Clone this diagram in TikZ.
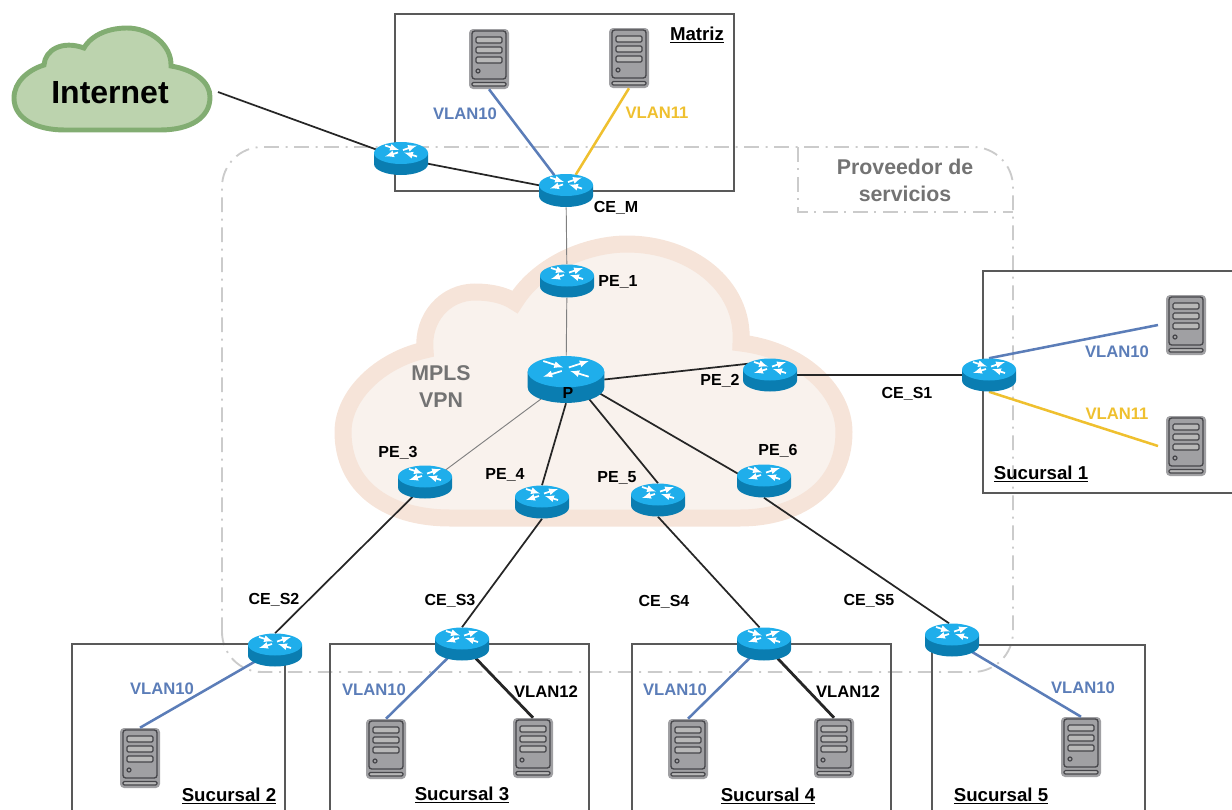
\documentclass[tikz,border=0pt]{standalone}
\usepackage{fontspec}
\setmainfont{Liberation Sans}
\usetikzlibrary{shapes.geometric}
\definecolor{rtop}{HTML}{1FAEEB}
\definecolor{rside}{HTML}{0A7DB1}
\definecolor{vblue}{HTML}{5B7DB8}
\definecolor{vyellow}{HTML}{EFC02F}
\definecolor{srvgray}{HTML}{A0A0A3}
\definecolor{srvdark}{HTML}{46464A}
\definecolor{dashgray}{HTML}{CBCBCB}
\definecolor{cpeach}{HTML}{F6E4D9}
\definecolor{ccream}{HTML}{F9F2ED}
\definecolor{cgreen}{HTML}{82AD72}
\definecolor{cleaf}{HTML}{BCD3AE}
\tikzset{
  rtr/.style={shape=ellipse,inner sep=0pt,minimum width=40.5pt,minimum height=24.75pt},
  rtrbig/.style={shape=ellipse,inner sep=0pt,minimum width=57pt,minimum height=35.25pt},
  srv/.style={rectangle,rounded corners=3pt,fill=srvgray,inner sep=0pt,minimum width=30pt,minimum height=45pt},
  lbl/.style={font=\bfseries\fontsize{12}{14}\selectfont,inner sep=0pt},
  vlan/.style={font=\bfseries\fontsize{12.5}{15}\selectfont,inner sep=0pt},
  site/.style={font=\bfseries\fontsize{14}{16}\selectfont,inner sep=0pt},
  graytxt/.style={font=\bfseries\fontsize{16}{19}\selectfont,inner sep=0pt,text=black!55},
  boxline/.style={draw=black!65,line width=1.1pt},
  provline/.style={draw=dashgray,line width=1.4pt,dash pattern=on 11pt off 5pt on 1.5pt off 5pt},
  link/.style={draw=black!85,line width=1.3pt},
  thin link/.style={draw=black!50,line width=.7pt},
  vl/.style={line width=1.9pt},
  pics/router/.style={code={
    \fill[rside] (-27,-5.5)--(-27,5.5) arc[start angle=180,end angle=0,x radius=27,y radius=11]--(27,-5.5)--cycle;
    \fill[rtop] (0,-5.5) ellipse[x radius=27,y radius=11];
    \draw[white,line width=1.3pt,->] (-16,-13)--(-2,-8.5);
    \draw[white,line width=1.3pt,->] (16,-2)--(3,-6);
    \draw[white,line width=1.3pt,->] (2,-8.5)--(16,-13);
    \draw[white,line width=1.3pt,->] (-3,-6)--(-16,-2);
  }},
  pics/srvin/.style={code={
    \draw[srvdark,line width=1pt,rounded corners=2pt] (-17,-28) rectangle (17,20);
    \foreach \y in {-22,-12,-2}{
      \draw[srvdark,line width=.9pt,rounded corners=1pt,fill=black!28] (-13,\y) rectangle (13,\y+6);
    }
    \draw[srvdark,line width=.9pt] (-11,12) circle[radius=1.5pt];
    \draw[srvdark,line width=.9pt,rounded corners=1pt,fill=black!28] (-17,23.5) rectangle (17,27);
  }},
}
\begin{document}
\begin{tikzpicture}[x=.75pt,y=-.75pt,>=latex]
\useasboundingbox (0,0) rectangle (1232,810);

\draw[provline,rounded corners=30pt] (222,672) rectangle (1013,147);
\draw[provline] (798,147)--(798,212)--(1013,212);
\node[graytxt] (provA) at (905,167){Proveedor de};
\node[graytxt] (provB) at (905,194){servicios};

\draw[line width=12.75pt,draw=cpeach,fill=ccream] (425,350) .. controls (422,318) and (445,292) .. (475,292)
  .. controls (490,292) and (505,295) .. (515,302) .. controls (540,262) and (590,244) .. (627,244)
  .. controls (690,244) and (745,285) .. (741,343) .. controls (800,350) and (844,390) .. (844,432)
  .. controls (844,490) and (795,518) .. (740,518) -- (450,518)
  .. controls (385,518) and (343,485) .. (343,432) .. controls (343,395) and (380,360) .. (425,350) -- cycle;
\node[graytxt] (mplsA) at (441,373){MPLS};
\node[graytxt] (mplsB) at (441,400){VPN};

\draw[line width=3.7pt,draw=cgreen,fill=cleaf] (44,65) .. controls (45,50) and (62,40) .. (84,48)
  .. controls (92,34) and (110,28) .. (127,28) .. controls (150,28) and (172,45) .. (171,66)
  .. controls (195,70) and (210,82) .. (210,97) .. controls (210,118) and (190,130) .. (160,130) -- (65,130)
  .. controls (35,130) and (14,118) .. (14,98) .. controls (14,82) and (28,70) .. (44,65) -- cycle;
\node[font=\bfseries\fontsize{24}{27}\selectfont,inner sep=0pt] (inet) at (110,93){Internet};
\coordinate (inetOut) at (218,92);

\draw[boxline] (395,14) rectangle (734,191);
\draw[boxline] (1232,271)--(983,271)--(983,493)--(1232,493);
\foreach \xa/\xb/\yt in {72/285/644,330/589/644,632/891/644,932/1145/645}
{
    \draw[boxline] (\xa,810)--(\xa,\yt)--(\xb,\yt)--(\xb,810);
}

\node[rtr] (edge) at (401,158.5){};
\node[rtr] (ceM) at (566,190.5){};
\node[rtr] (peA) at (567,281){};
\node[rtrbig] (pCore) at (566,379.5){};
\node[rtr] (peB) at (770,375){};
\node[rtr] (ceA) at (989,375){};
\node[rtr] (peC) at (425,482){};
\node[rtr] (peD) at (542,502){};
\node[rtr] (peE) at (658,500){};
\node[rtr] (peF) at (764,481){};
\node[rtr] (ceB) at (275,650){};
\node[rtr] (ceC) at (462,644){};
\node[rtr] (ceD) at (764,644){};
\node[rtr] (ceE) at (952,640){};

\foreach \s/\x/\y in {srvMa/489/59,srvMb/629/58,srvSa/1186/325,srvSb/1186/446,srvSc/140/758,srvSd/386/749,srvSe/533/748,srvSf/688/749,srvSg/834/748,srvSh/1081/747}
{
    \node[srv,name=\s] at (\x,\y){};
    \pic at (\s) {srvin};
}
\coordinate (toSa) at (1158,325);
\coordinate (toSb) at (1158,446);

\draw[link] (inetOut)--(edge);
\draw[link] (edge)--(ceM);
\draw[thin link] (ceM)--(peA);
\draw[thin link] (peA)--(pCore);
\draw[thin link] (pCore.218)--(peC.30);
\draw[link] (pCore.east)--(peB.150);
\draw[link] (peB)--(ceA);
\draw[link] (pCore.south)--(peD.north);
\draw[link] (pCore.-40)--(peE.north);
\draw[link] (pCore.-22)--(peF.165);
\draw[link] (peC.230)--(ceB.north);
\draw[link] (peD.south)--(ceC.north);
\draw[link] (peE.south)--(ceD.105);
\draw[link] (peF.south)--(ceE.100);
\draw[vl,vblue] (ceM)--(srvMa.south);
\draw[vl,vyellow] (ceM)--(srvMb.south);
\draw[vl,vblue] (ceA.north)--(toSa);
\draw[vl,vyellow] (ceA.south)--(toSb);
\foreach \a/\b in {ceB/srvSc,ceC/srvSd,ceD/srvSf,ceE/srvSh}
{
    \draw[vl,vblue] (\a)--(\b.north);
}
\foreach \a/\b in {ceC/srvSe,ceD/srvSg}
{
    \draw[line width=2.1pt,black!85] (\a)--(\b.north);
}

\foreach \r in {edge,ceM,peA,peB,ceA,peC,peD,peE,peF,ceB,ceC,ceD,ceE}
{
    \pic at (\r) {router};
}
\pic[scale=1.42] at (pCore) {router};

\foreach \lb/\x/\y/\txt in {tCeM/616/208/CE\_M,tPeA/618/282/PE\_1,tP/568/393/P,tPeB/720/381/PE\_2,tPeC/398/453/PE\_3,tPeD/505/475/PE\_4,tPeE/617/478/PE\_5,tPeF/778/451/PE\_6,tCeA/907/394/CE\_S1,tCeB/274/600/CE\_S2,tCeC/450/601/CE\_S3,tCeD/664/602/CE\_S4,tCeE/869/601/CE\_S5}
{
    \node[lbl,name=\lb] at (\x,\y){\txt};
}
\foreach \lb/\x/\y in {vMa/465/114,vSa/1117/352,vSc/162/689,vSd/374/690,vSf/675/690,vSh/1083/688}
{
    \node[vlan,text=vblue,name=\lb] at (\x,\y){VLAN10};
}
\foreach \lb/\x/\y in {vMb/657/113,vSb/1117/414}
{
    \node[vlan,text=vyellow,name=\lb] at (\x,\y){VLAN11};
}
\foreach \lb/\x/\y in {vSe/546/692,vSg/848/692}
{
    \node[vlan,name=\lb] at (\x,\y){VLAN12};
}
\node[site] (matriz) at (697,35){\underline{Matriz}};
\foreach \lb/\x/\y/\num in {sucA/1041/474/1,sucB/229/796/2,sucC/462/795/3,sucD/768/796/4,sucE/1001/796/5}
{
    \node[site,name=\lb] at (\x,\y){\underline{Sucursal \num}};
}
\end{tikzpicture}
\end{document}
